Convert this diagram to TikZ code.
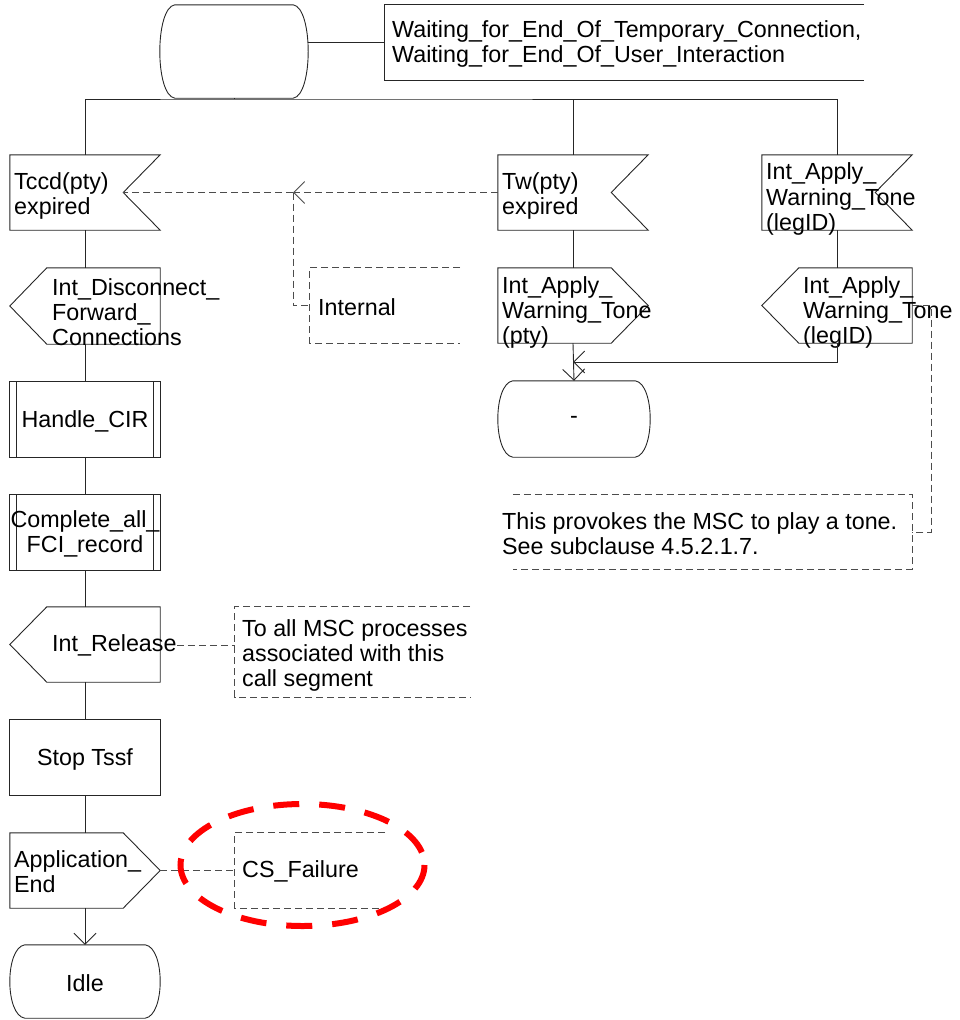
\documentclass[tikz,border=0pt]{standalone}
\usepackage{fontspec}
\setmainfont{Liberation Sans}
\usetikzlibrary{arrows.meta}

% SDL symbol outlines, drawn around empty geometry nodes
\newcommand\sdlinput[1]{\draw[ln] (#1.north west) -- (#1.north east) -- ([xshift=-37pt]#1.east) -- (#1.south east) -- (#1.south west) -- cycle;}
\newcommand\sdloutR[1]{\draw[ln] (#1.north west) -- ([xshift=-37pt]#1.north east) -- (#1.east) -- ([xshift=-37pt]#1.south east) -- (#1.south west) -- cycle;}
\newcommand\sdloutL[1]{\draw[ln] ([xshift=37pt]#1.north west) -- (#1.north east) -- (#1.south east) -- ([xshift=37pt]#1.south west) -- (#1.west) -- cycle;}
\newcommand\sdltask[1]{\draw[ln] (#1.north west) rectangle (#1.south east);}
\newcommand\sdlproc[1]{\sdltask{#1}\draw[ln] ([xshift=7pt]#1.north west) -- ([xshift=7pt]#1.south west) ([xshift=-7pt]#1.north east) -- ([xshift=-7pt]#1.south east);}
\newcommand\sdlstate[1]{\draw[ln] ([xshift=15pt]#1.north west) -- ([xshift=-15pt]#1.north east) .. controls ([xshift=5pt,yshift=-3pt]#1.north east) and ([xshift=5pt,yshift=3pt]#1.south east) .. ([xshift=-15pt]#1.south east) -- ([xshift=15pt]#1.south west) .. controls ([xshift=-5pt,yshift=3pt]#1.south west) and ([xshift=-5pt,yshift=-3pt]#1.north west) .. cycle;}
% comment brackets, open to the right / to the left
\newcommand\cmtR[1]{\draw[cmt] (#1.north east) -- (#1.north west) -- (#1.south west) -- (#1.south east);}
\newcommand\cmtL[1]{\draw[cmt] (#1.north west) -- (#1.north east) -- (#1.south east) -- (#1.south west);}

\begin{document}
\begin{tikzpicture}[x=1pt,y=-1pt,
  every node/.style={font=\fontsize{23.3}{25.3}\selectfont, inner sep=0pt},
  geo/.style={draw=none, inner sep=0pt},
  ln/.style={line width=0.9pt, draw=black!85},
  cmt/.style={line width=0.9pt, draw=black!70, dash pattern=on 7pt off 4pt},
  arr/.style={-{Straight Barb[length=11pt,width=22pt]}},
  txt/.style={align=left, anchor=west},
  ctxt/.style={align=center},
]
\useasboundingbox (0,0) rectangle (959,1020);

% ---- start state and its text extension
\node[geo, minimum width=148pt, minimum height=93pt] (s0) at (234,51.5) {};
\node[geo, minimum width=479pt, minimum height=75pt] (tb) at (624.5,42.5) {};
\sdlstate{s0}
\draw[ln] (tb.north east) -- (tb.north west) -- (tb.south west) -- (tb.south east);
\node[txt] (tbtext) at (392,44) {Waiting\_for\_End\_Of\_Temporary\_Connection,\\Waiting\_for\_End\_Of\_User\_Interaction};
\draw[ln] (tb.west -| s0.east) -- (tb.west);

% ---- left column
\node[geo, minimum width=150pt, minimum height=75pt] (tccd) at (85,192.5) {};
\node[geo, minimum width=150pt, minimum height=76pt] (dfc) at (85,306) {};
\node[geo, minimum width=150pt, minimum height=75pt] (hcir) at (85,419.5) {};
\node[geo, minimum width=150pt, minimum height=75pt] (cafr) at (85,532.5) {};
\node[geo, minimum width=150pt, minimum height=75pt] (rel) at (85,644.5) {};
\node[geo, minimum width=150pt, minimum height=75pt] (stop) at (85,757.5) {};
\node[geo, minimum width=150pt, minimum height=75pt] (appe) at (85,870.5) {};
\node[geo, minimum width=150pt, minimum height=73pt] (idle) at (85,981.5) {};
\sdlinput{tccd}
\sdloutL{dfc}
\sdlproc{hcir}
\sdlproc{cafr}
\sdloutL{rel}
\sdltask{stop}
\sdloutR{appe}
\sdlstate{idle}
\node[txt] (tccdtext) at (14,196) {Tccd(pty)\\expired};
\node[txt] (dfctext) at (52,312) {Int\_Disconnect\_\\Forward\_\\Connections};
\node[ctxt] (hcirtext) at (85,421) {Handle\_CIR};
\node[ctxt] (cafrtext) at (85,534) {Complete\_all\_\\FCI\_record};
\node[txt] (reltext) at (52,645) {Int\_Release};
\node[ctxt] (stoptext) at (85,759) {Stop Tssf};
\node[txt] (appetext) at (14,872) {Application\_\\End};
\node[ctxt] (idletext) at (85,983) {Idle};

% ---- middle column
\node[geo, minimum width=150pt, minimum height=75pt] (twin) at (573,192.5) {};
\node[geo, minimum width=150pt, minimum height=75pt] (awt) at (573,305.5) {};
\node[geo, minimum width=152pt, minimum height=76pt] (s1) at (574,419) {};
\sdlinput{twin}
\sdloutR{awt}
\sdlstate{s1}
\node[txt] (twintext) at (502,196) {Tw(pty)\\expired};
\node[txt] (awttext) at (502,312.5) {Int\_Apply\_\\Warning\_Tone\\(pty)};
\node[ctxt] (s1text) at (574,420) {-};

% ---- right column
\node[geo, minimum width=150pt, minimum height=75pt] (apin) at (837,192.5) {};
\node[geo, minimum width=150pt, minimum height=75pt] (awl) at (837,305.5) {};
\sdlinput{apin}
\sdloutL{awl}
\node[txt] (apintext) at (766,199) {Int\_Apply\_\\Warning\_Tone\\(legID)};
\node[txt] (awltext) at (803,312.5) {Int\_Apply\_\\Warning\_Tone\\(legID)};

% ---- comments
\node[geo, minimum width=150pt, minimum height=75pt] (intc) at (385,305.5) {};
\node[geo, minimum width=235pt, minimum height=90pt] (relc) at (352.5,652) {};
\node[geo, minimum width=150pt, minimum height=75pt] (csf) at (310,870.5) {};
\node[geo, minimum width=399pt, minimum height=74pt] (tone) at (712.5,532) {};
\cmtR{intc}
\cmtR{relc}
\cmtR{csf}
\cmtL{tone}
\node[txt] (intctext) at (318,307) {Internal};
\node[txt] (relctext) at (242,655.5) {To all MSC processes\\associated with this\\call segment};
\node[txt] (csftext) at (242,871.5) {CS\_Failure};
\node[txt] (tonetext) at (502,534) {This provokes the MSC to play a tone.\\See subclause 4.5.2.1.7.};

% ---- flow lines
\coordinate (j) at (234,99);
\draw[ln] (s0.south) -- (j);
\draw[ln] (tccd.north) |- (j) -| (apin.north);
\draw[ln] (twin.north) -- (twin.north |- j);
\draw[ln] (tccd.south) -- (dfc.north);
\draw[ln] (dfc.south) -- (hcir.north);
\draw[ln] (hcir.south) -- (cafr.north);
\draw[ln] (cafr.south) -- (rel.north);
\draw[ln] (rel.south) -- (stop.north);
\draw[ln] (stop.south) -- (appe.north);
\draw[ln, arr] (appe.south) -- (idle.north);
\draw[ln] (twin.south) -- (awt.north);
\draw[ln, arr] (awt.south) -- (s1.north);
\draw[ln] (apin.south) -- (awl.north);
\coordinate (mg) at (573,362);
\draw[ln, arr] (awl.south) |- (mg);

% ---- internal signal route and comment links
\coordinate (sig) at (293,192.5);
\draw[cmt, arr] (twin.west) -- (sig);
\draw[cmt] (sig) -- ([xshift=-37pt]tccd.east);
\draw[cmt] (sig) |- (intc.west);
\draw[cmt] (reltext.east) -- (reltext.east -| relc.west);
\draw[cmt] (appe.east) -- (csf.west);
\coordinate (k) at (931,532);
\draw[cmt] (awl.east) -| (k) -- (tone.east);

% ---- highlight ring
\draw[red, line width=6pt, dash pattern=on 26pt off 20pt] (302.5,865) ellipse [x radius=122, y radius=61];
\end{tikzpicture}
\end{document}
